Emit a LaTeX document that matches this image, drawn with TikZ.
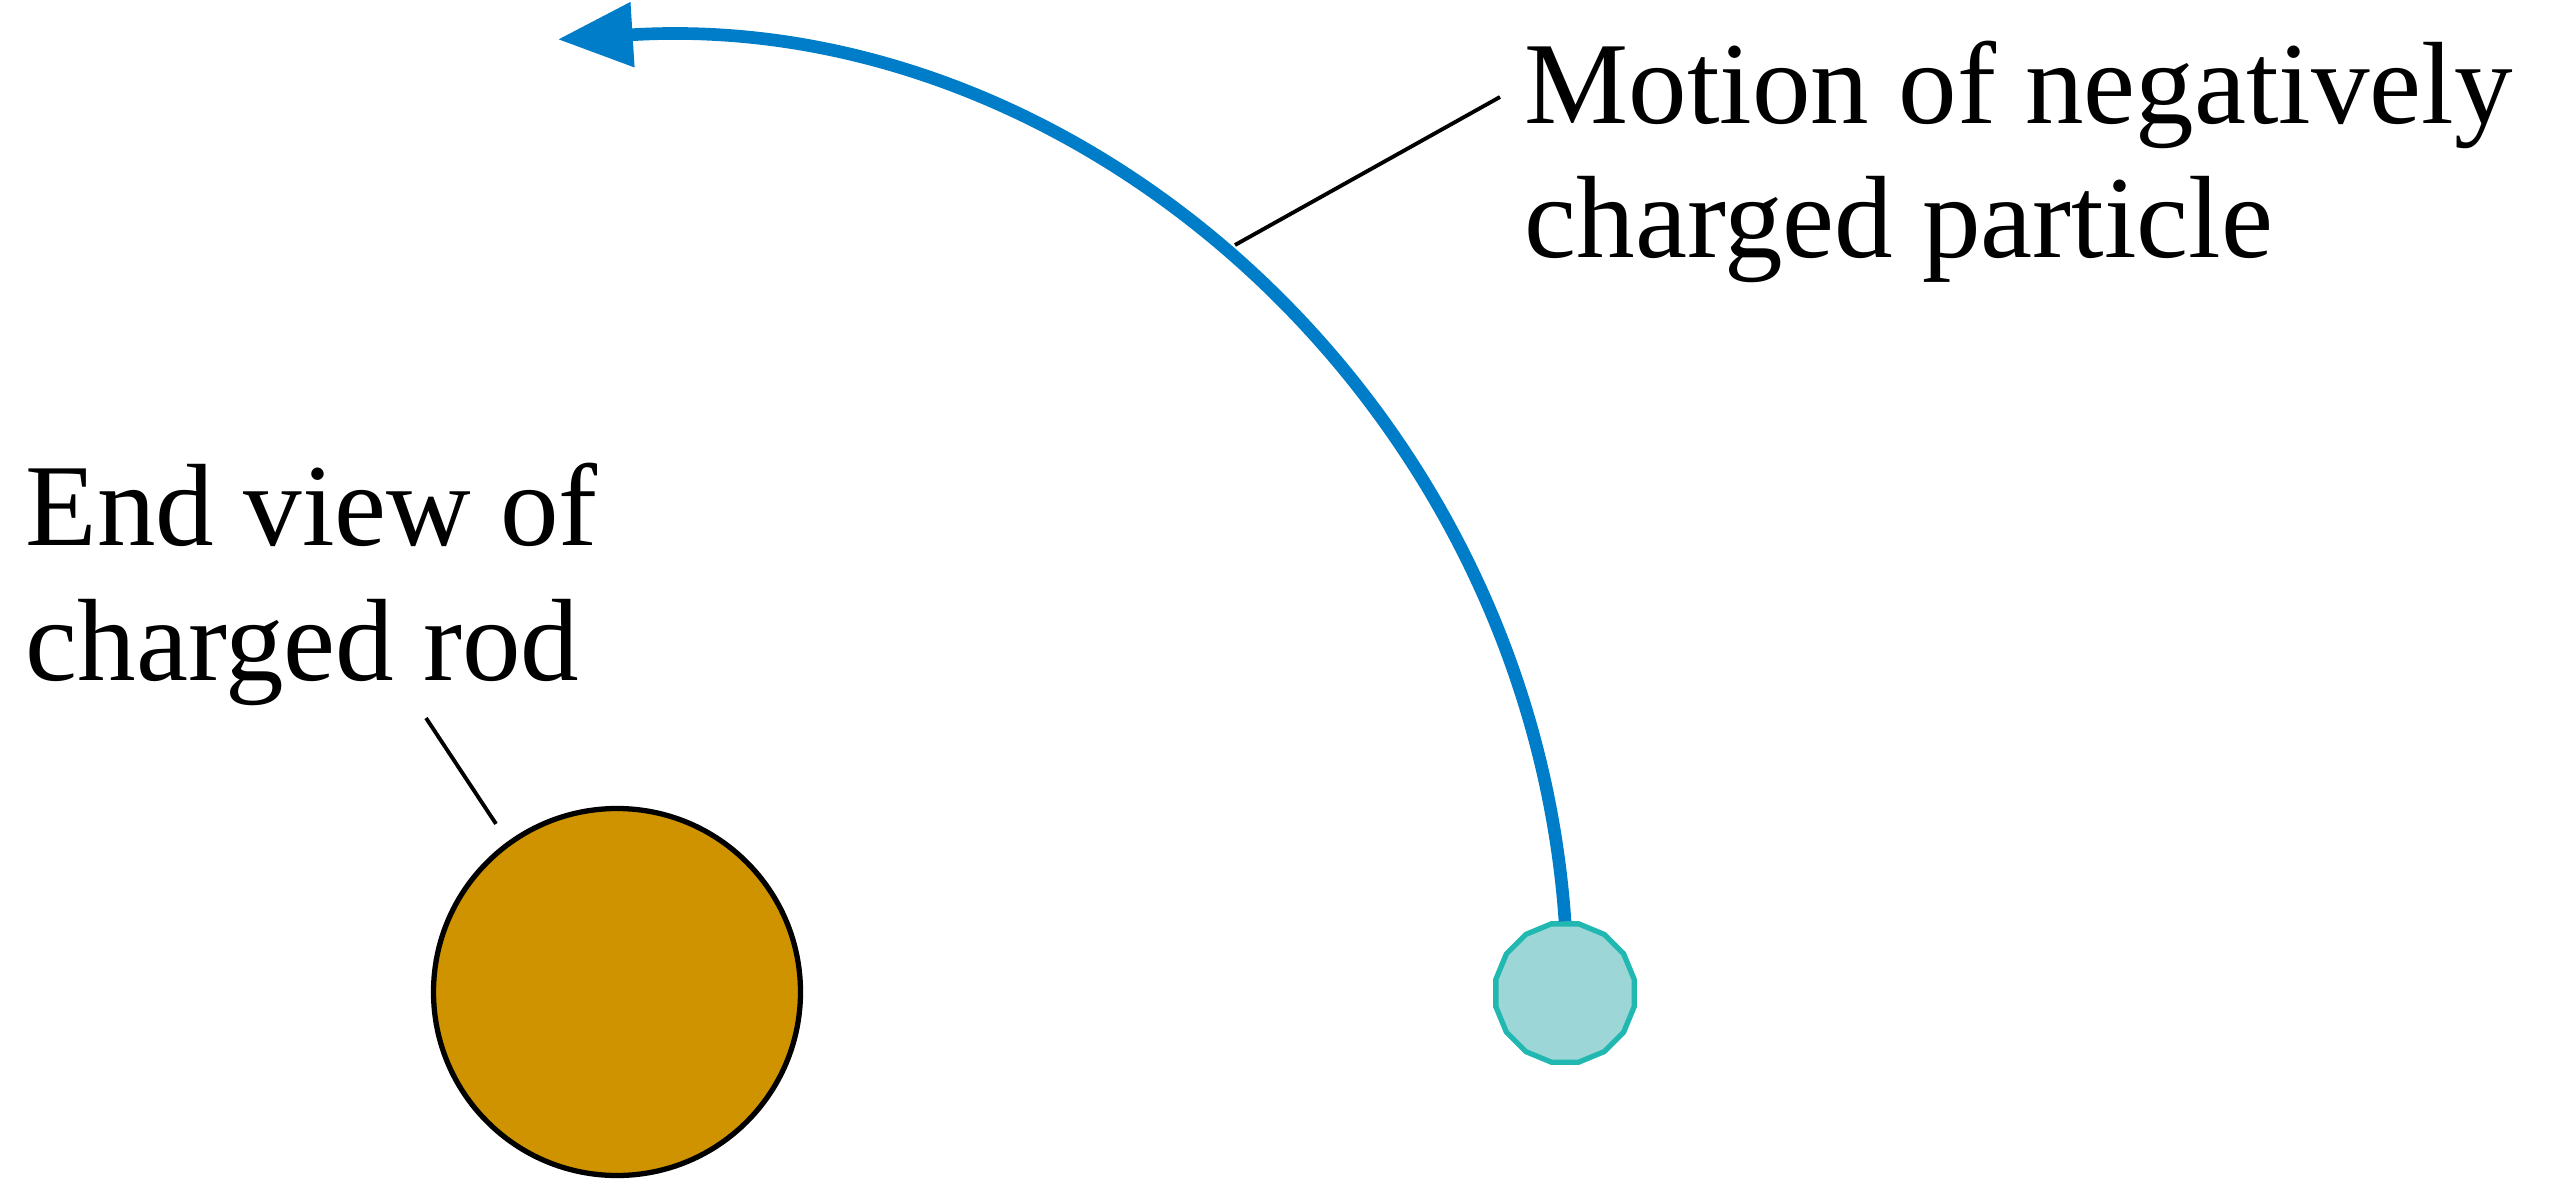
\documentclass[tikz,border=0pt]{standalone}
\usepackage{fontspec}
\setmainfont{Liberation Serif}
\usetikzlibrary{arrows.meta,shapes.geometric}
\definecolor{pathblue}{RGB}{0,125,200}
\definecolor{rodgold}{RGB}{207,147,0}
\definecolor{qfill}{RGB}{157,214,214}
\definecolor{qedge}{RGB}{32,184,176}
\begin{document}
\begin{tikzpicture}[every node/.style={font=\fontsize{33.3}{38.2}\selectfont},
  leader/.style={draw=black,line width=1.1pt},
  lbl/.style={align=left,inner sep=0pt,anchor=base west}]
  \useasboundingbox (0,0) rectangle (25.5,11.8);
  % end view of the rod
  \node[circle,draw,line width=1.5pt,fill=rodgold,minimum size=3.67cm,inner sep=0pt] (rod) at (6.17,1.88) {};
  \node[lbl] (rodlbl) at (0.25,5.00) {End view of\\charged rod};
  \coordinate (rodlead) at (4.26,4.62);
  \draw[leader,shorten >=0.21cm] (rodlead) -- (rod.126.9);
  % negative particle and its path
  \node[regular polygon,regular polygon sides=16,draw=qedge,fill=qfill,line width=1.5pt,minimum size=1.41cm,inner sep=0pt] (particle) at (15.65,1.87) {};
  \draw[pathblue,line width=3.6pt,-{Triangle[length=0.75cm,width=0.62cm]}] (particle.north) arc[start angle=4.0,end angle=93.6,radius=9.5];
  \node[lbl] (motionlbl) at (15.24,9.22) {Motion of negatively\\charged particle};
  \coordinate (motionlead) at (15.00,10.83);
  \coordinate (arcpt) at (12.35,9.35);
  \draw[leader] (arcpt) -- (motionlead);
\end{tikzpicture}
\end{document}
